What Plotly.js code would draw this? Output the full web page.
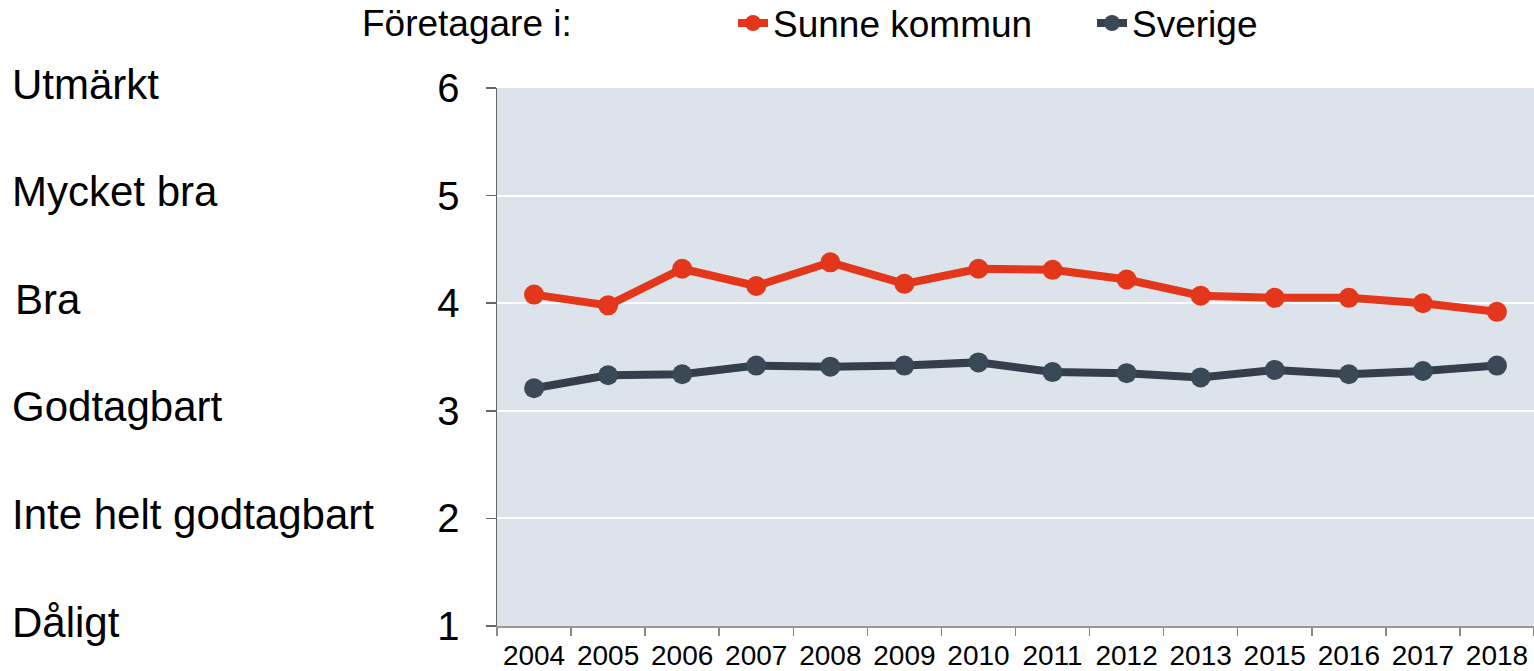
<!DOCTYPE html>
<html>
<head>
<meta charset="utf-8">
<script src="https://cdn.plot.ly/plotly-3.0.1.min.js"></script>
<style>html,body{margin:0;padding:0;background:#fff;}#chart{width:1534px;height:671px;}</style>
</head>
<body>
<div id="chart"></div>
<script>
const years = ["2004","2005","2006","2007","2008","2009","2010","2011","2012","2013","2015","2016","2017","2018"];
const sunne = [4.08, 3.98, 4.32, 4.16, 4.38, 4.18, 4.32, 4.31, 4.22, 4.07, 4.05, 4.05, 4.00, 3.92];
const sverige = [3.21, 3.33, 3.34, 3.42, 3.41, 3.42, 3.45, 3.36, 3.35, 3.31, 3.38, 3.34, 3.37, 3.42];
const ratingLabels = ["Utmärkt", "Mycket bra", "Bra", "Godtagbart", "Inte helt godtagbart", "Dåligt"];
const ratingValues = [6, 5, 4, 3, 2, 1];
const legendTitle = "Företagare i:";
const seriesNames = ["Sunne kommun", "Sverige"];

const FONT = "Liberation Sans, Arial, sans-serif";

const traces = [
  {x: years, y: sunne, name: seriesNames[0], type: "scatter", mode: "lines+markers",
   line: {color: "#E3361A", width: 8}, marker: {color: "#E3361A", size: 20}},
  {x: years, y: sverige, name: seriesNames[1], type: "scatter", mode: "lines+markers",
   line: {color: "#343F4B", width: 8}, marker: {color: "#3B4956", size: 20}}
];

const annotations = ratingLabels.map((t, i) => ({
  text: t, xref: "paper", yref: "y", x: (i === 2 ? -0.4666 : -0.4696), y: ratingValues[i],
  xanchor: "left", yanchor: "middle", yshift: 4, showarrow: false,
  font: {family: FONT, size: 42, color: "#000"}
}));
annotations.push({
  text: legendTitle, xref: "paper", yref: "paper", x: -0.132, y: 1.12,
  xanchor: "left", yanchor: "middle", showarrow: false,
  font: {family: FONT, size: 37, color: "#000"}
});

const layout = {
  width: 1534, height: 671,
  margin: {l: 497, r: 0, t: 88, b: 45, autoexpand: false},
  paper_bgcolor: "#ffffff",
  plot_bgcolor: "#DDE3EA",
  font: {family: FONT, color: "#000"},
  showlegend: true,
  legend: {orientation: "h", x: 0.2276, xanchor: "left", y: 1.12, yanchor: "middle",
           font: {family: FONT, size: 37, color: "#000"}, bgcolor: "rgba(0,0,0,0)",
           entrywidth: 314, entrywidthmode: "pixels"},
  xaxis: {type: "category", range: [-0.5, 13.5], tickson: "boundaries",
          ticks: "outside", ticklen: 8, tickcolor: "#888", tickwidth: 1.5,
          showline: true, linecolor: "#999", linewidth: 2, showgrid: false,
          ticklabelstandoff: 3,
          tickfont: {family: FONT, size: 28, color: "#000"}, fixedrange: true},
  yaxis: {range: [1, 6], dtick: 1, tick0: 1, ticks: "outside", ticklen: 10, tickcolor: "#666",
          tickwidth: 1.5, showline: true, linecolor: "#666", linewidth: 1.5,
          showgrid: true, gridcolor: "#ffffff", gridwidth: 2, zeroline: false,
          ticklabelstandoff: 18,
          tickfont: {family: FONT, size: 40, color: "#000"}, fixedrange: true},
  annotations: annotations
};

Plotly.newPlot("chart", traces, layout, {displayModeBar: false, staticPlot: true});
</script>
</body>
</html>
